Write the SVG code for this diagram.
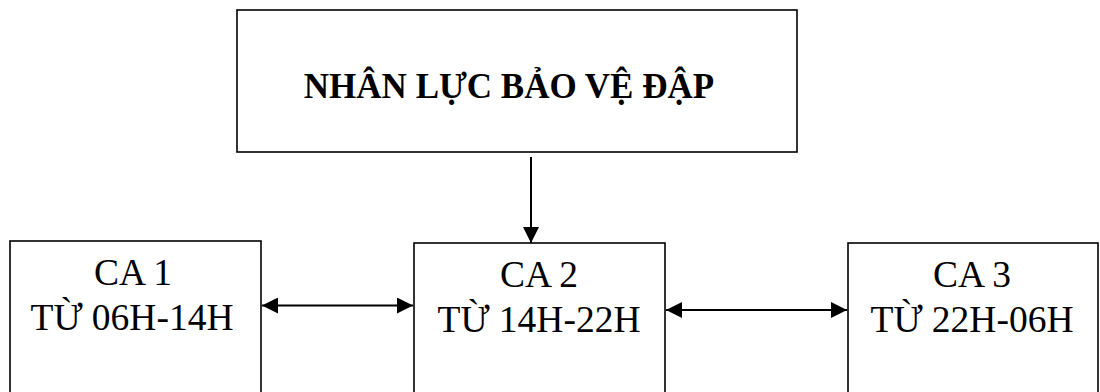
<svg xmlns="http://www.w3.org/2000/svg" width="1100" height="392" viewBox="0 0 1100 392">
<defs>
<style>
.box{fill:#fff;stroke:#000;stroke-width:1.6}
.t{font-family:"Liberation Serif","Times New Roman",serif;fill:#000;text-anchor:middle}
.ttl{font-size:35px;font-weight:bold}
.lbl{font-size:37.5px}
.c{stroke:#000;stroke-width:2;fill:none}
</style>
<marker id="ah" viewBox="0 0 16 16" refX="16" refY="8" markerWidth="16" markerHeight="16" markerUnits="userSpaceOnUse" orient="auto-start-reverse">
<path d="M0,0 L16,8 L0,16 Z" fill="#000"/>
</marker>
</defs>
<rect width="1100" height="392" fill="#fff"/>
<g id="top">
<rect class="box" x="237" y="10" width="560" height="142"/>
<text class="t ttl" x="509" y="98">NHÂN LỰC BẢO VỆ ĐẬP</text>
</g>
<g id="ca1">
<rect class="box" x="10" y="241" width="251" height="160"/>
<text class="t lbl" x="133" y="285">CA 1</text>
<text class="t lbl" x="132" y="330">TỪ 06H-14H</text>
</g>
<g id="ca2">
<rect class="box" x="414" y="243" width="251" height="160"/>
<text class="t lbl" x="539" y="287">CA 2</text>
<text class="t lbl" x="539" y="332">TỪ 14H-22H</text>
</g>
<g id="ca3">
<rect class="box" x="848" y="243" width="250" height="160"/>
<text class="t lbl" x="972" y="287">CA 3</text>
<text class="t lbl" x="972" y="332">TỪ 22H-06H</text>
</g>
<g id="connectors">
<line class="c" x1="531" y1="157" x2="531" y2="243" marker-end="url(#ah)"/>
<line class="c" x1="262" y1="305.5" x2="413" y2="305.5" marker-start="url(#ah)" marker-end="url(#ah)"/>
<line class="c" x1="666" y1="310" x2="847" y2="310" marker-start="url(#ah)" marker-end="url(#ah)"/>
</g>
</svg>
